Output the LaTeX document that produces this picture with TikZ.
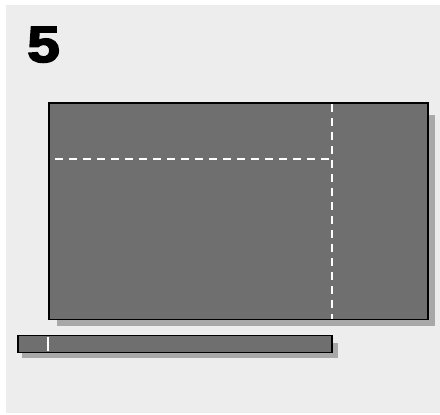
\documentclass[tikz,border=0pt]{standalone}
\usepackage{fontspec}
\setmainfont{Liberation Sans}
\newfontfamily\heavyfont[FakeBold=3]{Liberation Sans Bold}
\definecolor{bgc}{HTML}{EDEDED}
\definecolor{panel}{HTML}{6F6F6F}
\definecolor{shade}{HTML}{A8A8A8}
\tikzset{
  boxshape/.style={fill=panel, draw=black, line width=1.4pt},
  shadowshape/.style={fill=shade, draw=none},
  cutline/.style={draw=white, line width=2pt, dash pattern=on 8pt off 6pt},
}
\begin{document}
\begin{tikzpicture}[x=1pt,y=-1pt]
\useasboundingbox (0,0) rectangle (440,415);
\fill[white] (0,0) rectangle (440,415);
\fill[bgc] (6,5) rectangle (440,413);
\node[anchor=base west, font=\fontsize{51}{51}\heavyfont, inner sep=0pt, xscale=1.15] (num) at (27,62) {5};
% main panel
\fill[shadowshape] (57,115) rectangle (435,326);
\draw[boxshape] (49,103) rectangle (428,319.5);
\draw[cutline] (332,104) -- (332,319);
\draw[cutline] (55,158.5) -- (331,158.5);
% strip
\fill[shadowshape] (22,343) rectangle (338,358);
\draw[boxshape] (18,335.5) rectangle (332,352.5);
\draw[white, line width=2.8pt] (48,337) -- (48,351);
\end{tikzpicture}
\end{document}
